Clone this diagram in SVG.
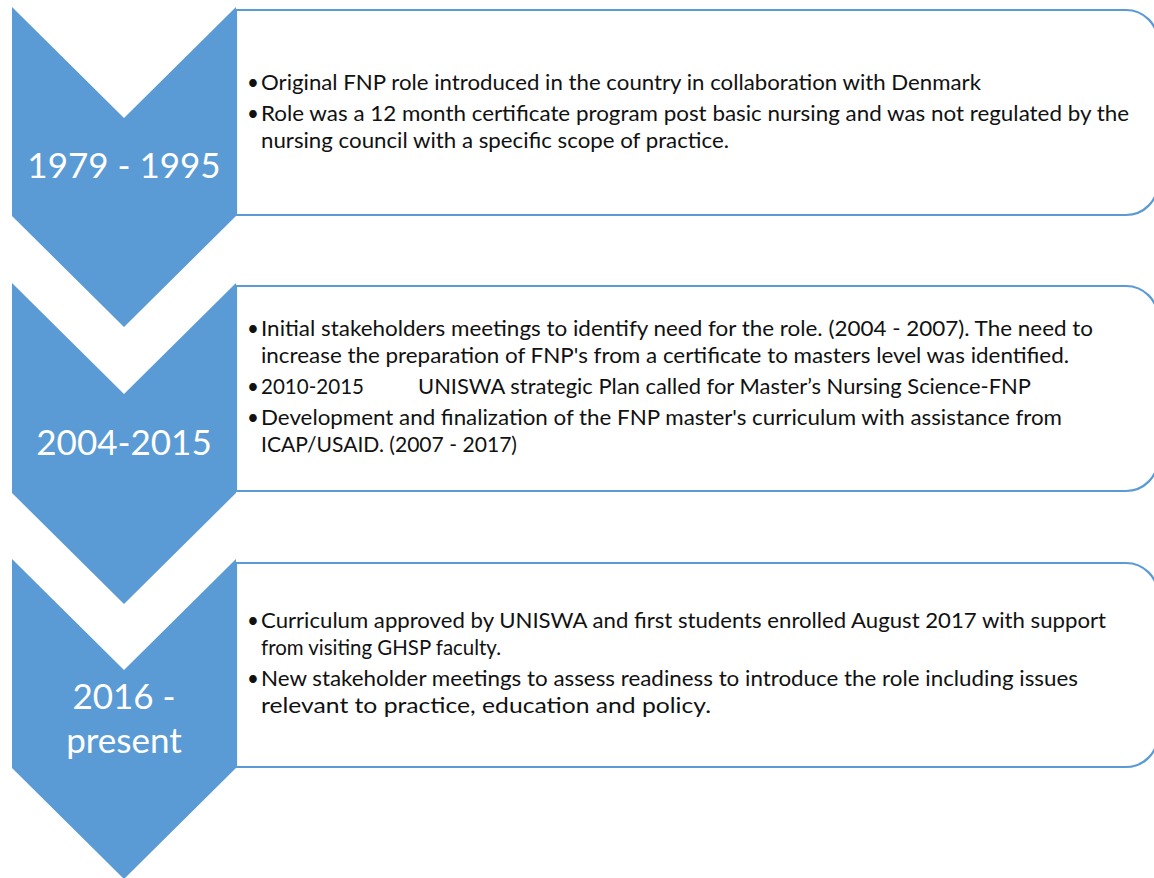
<svg xmlns="http://www.w3.org/2000/svg" width="1154" height="878" viewBox="0 0 1154 878">
  <style>
    .box { fill: #ffffff; stroke: #5B9BD5; stroke-width: 2.2; }
    .chev { fill: #5B9BD5; }
    .label { font-family: Lato, "Liberation Sans", sans-serif; font-size: 35px; fill: #ffffff; text-anchor: middle; }
    .body { font-family: Lato, "Liberation Sans", sans-serif; font-size: 20.5px; fill: #111111; }
  </style>
  <rect width="1154" height="878" fill="#ffffff"/>

  <!-- Period 1 -->
  <g id="period-1979-1995">
    <path class="box" d="M236,10 H1126 A32,32 0 0 1 1158,42 V183 A32,32 0 0 1 1126,215 H236 Z"/>
    <path class="chev" d="M12,7 L124,118 L236,7 V216 L124,327 L12,216 Z"/>
    <text class="label" x="124" y="178">1979 - 1995</text>
    <g class="body">
      <text x="247" y="90">•</text>
      <text x="261" y="90" textLength="720" lengthAdjust="spacingAndGlyphs">Original FNP role introduced in the country in collaboration with Denmark</text>
      <text x="247" y="121">•</text>
      <text x="261" y="121" textLength="868" lengthAdjust="spacingAndGlyphs">Role was a 12 month certificate program post basic nursing and was not regulated by the</text>
      <text x="261" y="148" textLength="468" lengthAdjust="spacingAndGlyphs">nursing council with a specific scope of practice.</text>
    </g>
  </g>

  <!-- Period 2 -->
  <g id="period-2004-2015">
    <path class="box" d="M236,286 H1126 A32,32 0 0 1 1158,318 V459 A32,32 0 0 1 1126,491 H236 Z"/>
    <path class="chev" d="M12,283 L124,394 L236,283 V493 L124,604 L12,493 Z"/>
    <text class="label" x="124" y="455">2004-2015</text>
    <g class="body">
      <text x="247" y="336">•</text>
      <text x="261" y="336" textLength="832" lengthAdjust="spacingAndGlyphs">Initial stakeholders meetings to identify need for the role.  (2004 - 2007). The need to</text>
      <text x="261" y="363" textLength="808" lengthAdjust="spacingAndGlyphs">increase the preparation of FNP's from a certificate to masters level was identified.</text>
      <text x="247" y="394">•</text>
      <text x="261" y="394" textLength="103" lengthAdjust="spacingAndGlyphs">2010-2015</text>
      <text x="418" y="394" textLength="613" lengthAdjust="spacingAndGlyphs">UNISWA strategic Plan called for Master’s Nursing Science-FNP</text>
      <text x="247" y="425">•</text>
      <text x="261" y="425" textLength="801" lengthAdjust="spacingAndGlyphs">Development and finalization of the FNP master's curriculum with assistance from</text>
      <text x="261" y="452" textLength="256" lengthAdjust="spacingAndGlyphs">ICAP/USAID. (2007 - 2017)</text>
    </g>
  </g>

  <!-- Period 3 -->
  <g id="period-2016-present">
    <path class="box" d="M236,563 H1126 A32,32 0 0 1 1158,595 V735 A32,32 0 0 1 1126,767 H236 Z"/>
    <path class="chev" d="M12,559 L124,670 L236,559 V768 L124,879 L12,768 Z"/>
    <text class="label" x="124" y="709">2016 -</text>
    <text class="label" x="124" y="753">present</text>
    <g class="body">
      <text x="247" y="628">•</text>
      <text x="261" y="628" textLength="845" lengthAdjust="spacingAndGlyphs">Curriculum approved by UNISWA and first students enrolled August 2017 with support</text>
      <text x="261" y="655" textLength="240" lengthAdjust="spacingAndGlyphs">from visiting GHSP faculty.</text>
      <text x="247" y="686">•</text>
      <text x="261" y="686" textLength="817" lengthAdjust="spacingAndGlyphs">New stakeholder meetings to assess readiness to introduce the role including issues</text>
      <text x="261" y="713" textLength="450" lengthAdjust="spacingAndGlyphs">relevant to practice, education and policy.</text>
    </g>
  </g>

  <!-- no connectors: the chevrons themselves carry the sequence -->
  <g id="connectors"/>
</svg>
